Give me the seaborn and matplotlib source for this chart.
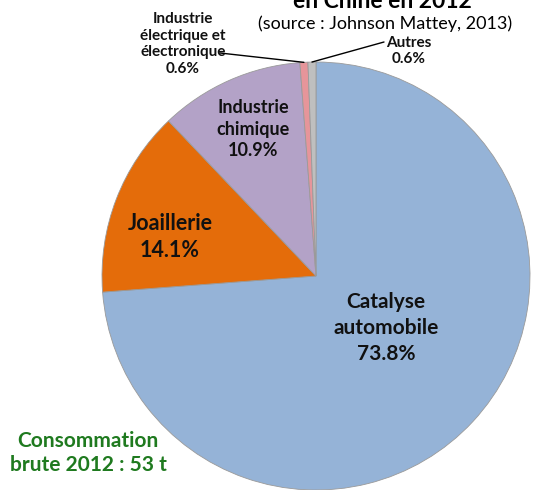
import matplotlib
matplotlib.use("Agg")
import matplotlib.pyplot as plt
import seaborn as sns
import numpy as np

categories = ["Catalyse\nautomobile", "Joaillerie", "Industrie\nchimique",
              "Industrie\nélectrique et\nélectronique", "Autres"]
values = [73.8, 14.1, 10.9, 0.6, 0.6]
colors = ["#95B3D7", "#E46C0A", "#B3A2C7", "#E6959A", "#BFBFBF"]
title_line = "en Chine en 2012"
subtitle = "(source : Johnson Mattey, 2013)"
note = "Consommation\nbrute 2012 : 53 t"

sns.set_theme(style="white")
plt.rcParams["font.family"] = ["Lato", "DejaVu Sans"]

W, H = 534, 490
fig = plt.figure(figsize=(W / 100, H / 100), dpi=100)
cx, cy, r = 316, 276, 214
ax = fig.add_axes([(cx - r) / W, (H - cy - r) / H, 2 * r / W, 2 * r / H])

wedges, _ = ax.pie(values, colors=colors, startangle=90, counterclock=False,
                   radius=1, wedgeprops=dict(edgecolor="#9a9a9a", linewidth=0.6))
ax.set_xlim(-1, 1)
ax.set_ylim(-1, 1)
ax.set_aspect("equal")
ax.axis("off")
for w in wedges:
    w.set_clip_on(False)

def P(px, py):
    return ((px - cx) / r, (cy - py) / r)

def lab(i):
    return f"{categories[i]}\n{values[i]:.1f}%"

# inside labels
ax.text(*P(386, 328), lab(0), ha="center", va="center", fontsize=15,
        fontweight="bold", color="#111111", linespacing=1.4)
ax.text(*P(170, 237), lab(1), ha="center", va="center", fontsize=15.5,
        fontweight="bold", color="#111111", linespacing=1.3)
ax.text(*P(253, 129), lab(2), ha="center", va="center", fontsize=13,
        fontweight="bold", color="#111111", linespacing=1.3)

def edge_point(w):
    a = np.deg2rad((w.theta1 + w.theta2) / 2)
    return (np.cos(a), np.sin(a))

ax.text(*P(183, 44), lab(3), ha="center", va="center", fontsize=11,
        fontweight="bold", color="#111111", linespacing=1.25)
ex, ey = edge_point(wedges[3])
ax.annotate("", xy=(ex, ey), xytext=P(220, 53),
            arrowprops=dict(arrowstyle="-", color="black", lw=1.0,
                            shrinkA=0, shrinkB=0), annotation_clip=False)

ax.text(*P(409, 51), lab(4), ha="center", va="center", fontsize=11,
        fontweight="bold", color="#111111", linespacing=1.25)
ex, ey = edge_point(wedges[4])
ax.annotate("", xy=(ex, ey), xytext=P(384, 42),
            arrowprops=dict(arrowstyle="-", color="black", lw=1.0,
                            shrinkA=0, shrinkB=0), annotation_clip=False)

# title (cut at top in the reference) and subtitle
fig.text(382 / W, 1 - 8 / H, title_line, ha="center", va="baseline",
         fontsize=16.5, fontweight="bold", color="black")
fig.text(385 / W, 1 - 24 / H, subtitle, ha="center", va="center",
         fontsize=13, color="black")

fig.text(88 / W, 1 - 453 / H, note, ha="center", va="center",
         fontsize=15, fontweight="bold", color="#1F7A1F", linespacing=1.25)

fig.savefig("out.png", dpi=100)
